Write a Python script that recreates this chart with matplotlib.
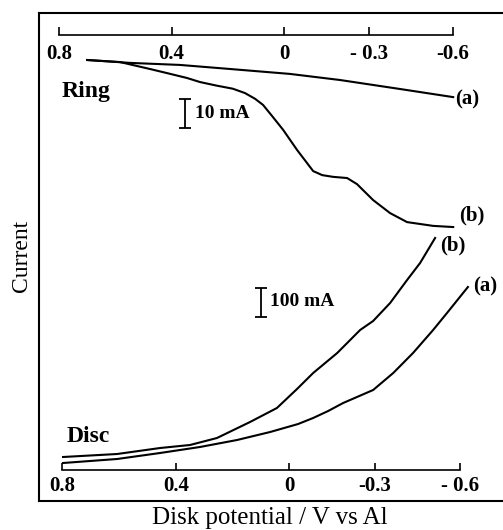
import numpy as np
import matplotlib
matplotlib.use('Agg')
import matplotlib.pyplot as plt

# Potenciais (V vs Al) e correntes
ring_a_E = [0.706, 0.554, 0.378, 0.201, -0.011, -0.188, -0.400, -0.588]
ring_a_I = [0.0, -1.0, -1.7, -3.1, -4.8, -6.9, -10.0, -12.8]  # mA

ring_b_E = [0.706, 0.590, 0.484, 0.420, 0.353, 0.307, 0.250, 0.191, 0.148, 0.112,
            0.084, 0.049, 0.013, -0.036, -0.093, -0.125, -0.164, -0.213, -0.248,
            -0.305, -0.365, -0.425, -0.517, -0.588]
ring_b_I = [0.0, -0.7, -3.1, -4.6, -6.2, -7.6, -8.8, -9.9, -11.4, -13.4,
            -15.5, -19.7, -24.1, -31.0, -38.3, -39.7, -40.3, -40.7, -42.8,
            -48.3, -52.8, -55.9, -57.2, -57.6]  # mA

disc_a_E = [0.791, 0.600, 0.448, 0.307, 0.176, 0.059, -0.040, -0.093, -0.146,
            -0.199, -0.305, -0.376, -0.446, -0.517, -0.566, -0.640]
disc_a_I = [0.0, 13.8, 34.5, 55.2, 79.3, 106.9, 134.5, 155.2, 179.3, 206.9,
            251.7, 310.3, 379.3, 458.6, 517.2, 606.9]  # mA

disc_b_E = [0.791, 0.600, 0.448, 0.342, 0.247, 0.130, 0.035, -0.036, -0.093,
            -0.178, -0.259, -0.305, -0.365, -0.425, -0.471, -0.524]
disc_b_I = [20.7, 31.0, 51.7, 62.1, 86.2, 141.4, 189.7, 255.2, 310.3,
            379.3, 458.6, 489.7, 551.7, 631.0, 689.7, 775.9]  # mA

tick_vals = [0.8, 0.4, 0, -0.3, -0.6]
top_labels = ['0.8', '0.4', '0', '- 0.3', '-0.6']
bot_labels = ['0.8', '0.4', '0', '-0.3', '- 0.6']

# escalas verticais (unidades do grafico por mA) e deslocamentos
ring_k, ring_off = 2.9, 441
disc_k, disc_off = 0.29, 38

serif = 'Liberation Serif'
W, H = 503, 530

fig = plt.figure(figsize=(W / 100, H / 100), dpi=100)
ax = fig.add_axes([39 / W, (H - 501) / H, (W - 39) / W, 488 / H])
ax.set_xlim(0.876, -0.764)
ax.set_ylim(0, 488)
ax.set_xticks([])
ax.set_yticks([])
ax.spines['right'].set_visible(False)
for s in ['left', 'top', 'bottom']:
    ax.spines[s].set_linewidth(1.5)

lw = 1.5
ax.plot(ring_a_E, ring_off + ring_k * np.array(ring_a_I), color='black', lw=lw)
ax.plot(ring_b_E, ring_off + ring_k * np.array(ring_b_I), color='black', lw=lw)
ax.plot(disc_a_E, disc_off + disc_k * np.array(disc_a_I), color='black', lw=lw)
ax.plot(disc_b_E, disc_off + disc_k * np.array(disc_b_I), color='black', lw=lw)

# barras de escala
ax.errorbar(0.360, 387.5, yerr=ring_k * 10 / 2, fmt='none', ecolor='black',
            elinewidth=1.3, capsize=4, capthick=1.3)
ax.errorbar(0.091, 198.5, yerr=disc_k * 100 / 2, fmt='none', ecolor='black',
            elinewidth=1.3, capsize=4, capthick=1.3)

bold = dict(family=serif, fontweight='bold', color='black')
ax.text(0.324, 388, '10 mA', fontsize=14, va='center', ha='left', **bold)
ax.text(0.059, 199, '100 mA', fontsize=14, va='center', ha='left', **bold)
ax.text(0.795, 404, 'Ring', fontsize=17, va='baseline', ha='left', **bold)
ax.text(0.777, 59, 'Disc', fontsize=17, va='baseline', ha='left', **bold)
ax.text(-0.595, 402, '(a)', fontsize=15, va='center', ha='left', **bold)
ax.text(-0.609, 286, '(b)', fontsize=15, va='center', ha='left', **bold)
ax.text(-0.542, 256, '(b)', fontsize=15, va='center', ha='left', **bold)
ax.text(-0.658, 215, '(a)', fontsize=15, va='center', ha='left', **bold)


def scale_axis(x0, x1, y, labels, tlen, pad):
    a = fig.add_axes([x0 / W, (H - y) / H, (x1 - x0) / W, 0.0001])
    a.patch.set_visible(False)
    for s in ['left', 'right', 'top']:
        a.spines[s].set_visible(False)
    a.spines['bottom'].set_linewidth(1.2)
    a.set_xlim(0.8, -0.6)
    a.set_yticks([])
    a.set_xticks(tick_vals)
    a.set_xticklabels(labels, family=serif, fontweight='bold', fontsize=15)
    a.tick_params(axis='x', direction='in', length=tlen, width=1.2, pad=pad)
    return a


scale_axis(59, 453, 35, top_labels, 6, 6.5)
scale_axis(62, 460, 469.5, bot_labels, 5, 5)

fig.text(22 / W, (H - 256) / H, 'Current', family=serif, fontsize=17,
         rotation=90, ha='center', va='center')
fig.text(270 / W, (H - 518) / H, 'Disk potential / V vs Al', family=serif,
         fontsize=18, ha='center', va='center')

plt.savefig('out.png', dpi=100)
